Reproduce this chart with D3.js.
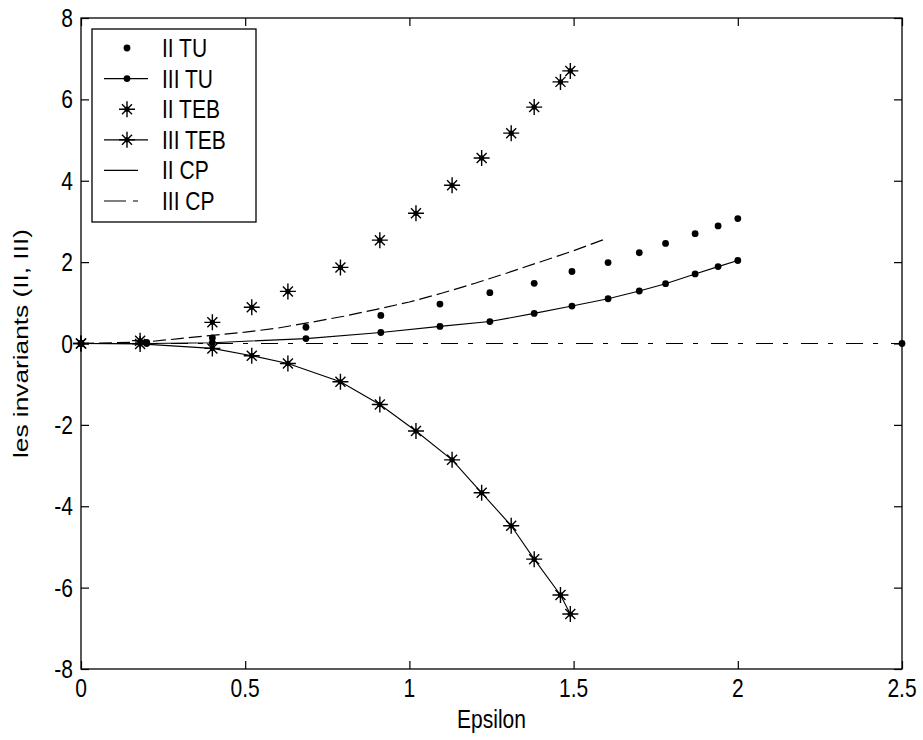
<!DOCTYPE html>
<html>
<head>
<meta charset="utf-8">
<script src="https://cdn.jsdelivr.net/npm/d3@7"></script>
<style>
  html, body { margin: 0; padding: 0; background: #fff; }
  svg { display: block; }
  text { font-family: "Liberation Sans", Arial, sans-serif; fill: #000; }
</style>
</head>
<body>
<script>
// ---------- data ----------
const tebX    = [0, 0.18, 0.40, 0.52, 0.63, 0.79, 0.91, 1.02, 1.13, 1.22, 1.31, 1.38, 1.46, 1.49];
const iiTEB   = [0, 0.07, 0.52, 0.89, 1.28, 1.87, 2.54, 3.20, 3.89, 4.56, 5.17, 5.81, 6.43, 6.70];
const iiiTEB  = [0, -0.01, -0.12, -0.30, -0.49, -0.94, -1.50, -2.15, -2.86, -3.67, -4.48, -5.30, -6.18, -6.65];

const tuX     = [0, 0.20, 0.40, 0.685, 0.913, 1.093, 1.245, 1.38, 1.495, 1.605, 1.70, 1.78, 1.87, 1.94, 2.0];
const iiTU    = [0, 0.03, 0.14, 0.40, 0.69, 0.97, 1.25, 1.48, 1.77, 1.99, 2.23, 2.46, 2.70, 2.89, 3.07];
const iiiTU   = [0, 0.00, 0.02, 0.12, 0.27, 0.42, 0.54, 0.74, 0.92, 1.10, 1.29, 1.47, 1.71, 1.89, 2.04];
const extraX  = [2.5];
const extraY  = [0];

const cpX     = [0, 0.2, 0.3, 0.4, 0.5, 0.6, 0.7, 0.8, 0.9, 1.0, 1.1, 1.2, 1.3, 1.4, 1.5, 1.6];
const iiCP    = [0, 0.04, 0.12, 0.20, 0.28, 0.38, 0.52, 0.67, 0.84, 1.02, 1.24, 1.48, 1.74, 2.01, 2.28, 2.58];
const iiiCPX  = [0, 2.5];
const iiiCP   = [0, 0];

const xTicks = [0, 0.5, 1, 1.5, 2, 2.5];
const xTickLabels = ["0", "0.5", "1", "1.5", "2", "2.5"];
const yTicks = [-8, -6, -4, -2, 0, 2, 4, 6, 8];
const yTickLabels = ["-8", "-6", "-4", "-2", "0", "2", "4", "6", "8"];
const legendLabels = ["II TU", "III TU", "II TEB", "III TEB", "II CP", "III CP"];
const xLabel = "Epsilon";
const yLabel = "les invariants (II, III)";

// ---------- layout ----------
const W = 923, H = 740;
const mLeft = 81, mRight = 902, mTop = 18, mBottom = 669;
const FS = 21, VS = 1.25;

const svg = d3.select("body").append("svg").attr("width", W).attr("height", H);
const x = d3.scaleLinear().domain([0, 2.5]).range([mLeft, mRight]);
const y = d3.scaleLinear().domain([-8, 8]).range([mBottom, mTop]);

function zip(xs, ys) { return xs.map((v, i) => [v, ys[i]]); }
const line = d3.line().x(d => x(d[0])).y(d => y(d[1]));

const plot = svg.append("g");

function asterisk(g, cx, cy) {
  const a = g.append("g").attr("transform", `translate(${cx},${cy})`);
  a.append("path").attr("d", "M-8,0H8M0,-8V8M-5,-5L5,5M-5,5L5,-5")
    .attr("stroke", "#000").attr("stroke-width", 1.4).attr("fill", "none");
  a.append("circle").attr("r", 2.6).attr("fill", "#000");
}
function dot(g, cx, cy) {
  g.append("circle").attr("cx", cx).attr("cy", cy).attr("r", 3.4).attr("fill", "#000");
}

// lines
plot.append("path").datum(zip(iiiCPX, iiiCP)).attr("d", line)
  .attr("fill", "none").attr("stroke", "#000").attr("stroke-width", 1.2)
  .attr("stroke-dasharray", "17,10,5,13");
plot.append("path").datum(zip(cpX, iiCP)).attr("d", line)
  .attr("fill", "none").attr("stroke", "#000").attr("stroke-width", 1.2)
  .attr("stroke-dasharray", "13,5");
plot.append("path").datum(zip(tuX, iiiTU)).attr("d", line)
  .attr("fill", "none").attr("stroke", "#000").attr("stroke-width", 1.1);
plot.append("path").datum(zip(tebX, iiiTEB)).attr("d", line)
  .attr("fill", "none").attr("stroke", "#000").attr("stroke-width", 1.1);

// markers
zip(tuX, iiTU).forEach(d => dot(plot, x(d[0]), y(d[1])));
zip(tuX, iiiTU).forEach(d => dot(plot, x(d[0]), y(d[1])));
zip(extraX, extraY).forEach(d => dot(plot, x(d[0]), y(d[1])));
zip(tebX, iiTEB).forEach(d => asterisk(plot, x(d[0]), y(d[1])));
zip(tebX, iiiTEB).forEach(d => asterisk(plot, x(d[0]), y(d[1])));

// axes frame
const tl = 8;
const ax = svg.append("g");
ax.append("g").attr("transform", `translate(0,${mBottom})`)
  .call(d3.axisBottom(x).tickValues(xTicks).tickSize(-tl).tickFormat(""));
ax.append("g").attr("transform", `translate(0,${mTop})`)
  .call(d3.axisTop(x).tickValues(xTicks).tickSize(-tl).tickFormat(""));
ax.append("g").attr("transform", `translate(${mLeft},0)`)
  .call(d3.axisLeft(y).tickValues(yTicks).tickSize(-tl).tickFormat(""));
ax.append("g").attr("transform", `translate(${mRight},0)`)
  .call(d3.axisRight(y).tickValues(yTicks).tickSize(-tl).tickFormat(""));
ax.selectAll(".domain").remove();
ax.selectAll("line").attr("stroke", "#000").attr("stroke-width", 1.2);
ax.append("rect").attr("x", mLeft).attr("y", mTop).attr("width", mRight - mLeft).attr("height", mBottom - mTop)
  .attr("fill", "none").attr("stroke", "#000").attr("stroke-width", 1.3);

function stretchedText(g, tx, ty, str, anchor, rot) {
  return g.append("text")
    .attr("transform", rot ? `translate(${tx},${ty}) rotate(-90) scale(${VS},1)` : `translate(${tx},${ty}) scale(1,${VS})`)
    .attr("text-anchor", anchor).attr("font-size", FS).text(str);
}

// tick labels
xTicks.forEach((v, i) => stretchedText(svg, x(v), 697, xTickLabels[i], "middle"));
yTicks.forEach((v, i) => stretchedText(svg, 73, y(v) + 9, yTickLabels[i], "end"));

// axis titles
stretchedText(svg, x(1.25), 728, xLabel, "middle");
stretchedText(svg, 28, y(0), yLabel, "middle", true);

// legend
const lg = svg.append("g");
lg.append("rect").attr("x", 92).attr("y", 29).attr("width", 164).attr("height", 193)
  .attr("fill", "#fff").attr("stroke", "#000").attr("stroke-width", 1.3);
const rowY = i => 48 + i * 30.6;
legendLabels.forEach((lab, i) => {
  const ry = rowY(i);
  if (i === 1 || i === 3) {
    lg.append("line").attr("x1", 104).attr("x2", 148).attr("y1", ry).attr("y2", ry)
      .attr("stroke", "#000").attr("stroke-width", 1.2);
  }
  if (i === 0 || i === 1) dot(lg, 127, ry);
  if (i === 2 || i === 3) asterisk(lg, 127, ry);
  if (i === 4) lg.append("line").attr("x1", 104).attr("x2", 138).attr("y1", ry).attr("y2", ry)
      .attr("stroke", "#000").attr("stroke-width", 1.2);
  if (i === 5) lg.append("line").attr("x1", 104).attr("x2", 138).attr("y1", ry).attr("y2", ry)
      .attr("stroke", "#000").attr("stroke-width", 1.2).attr("stroke-dasharray", "22,7,5,10");
  stretchedText(lg, 162, ry + 9, lab, "start");
});
</script>
</body>
</html>
